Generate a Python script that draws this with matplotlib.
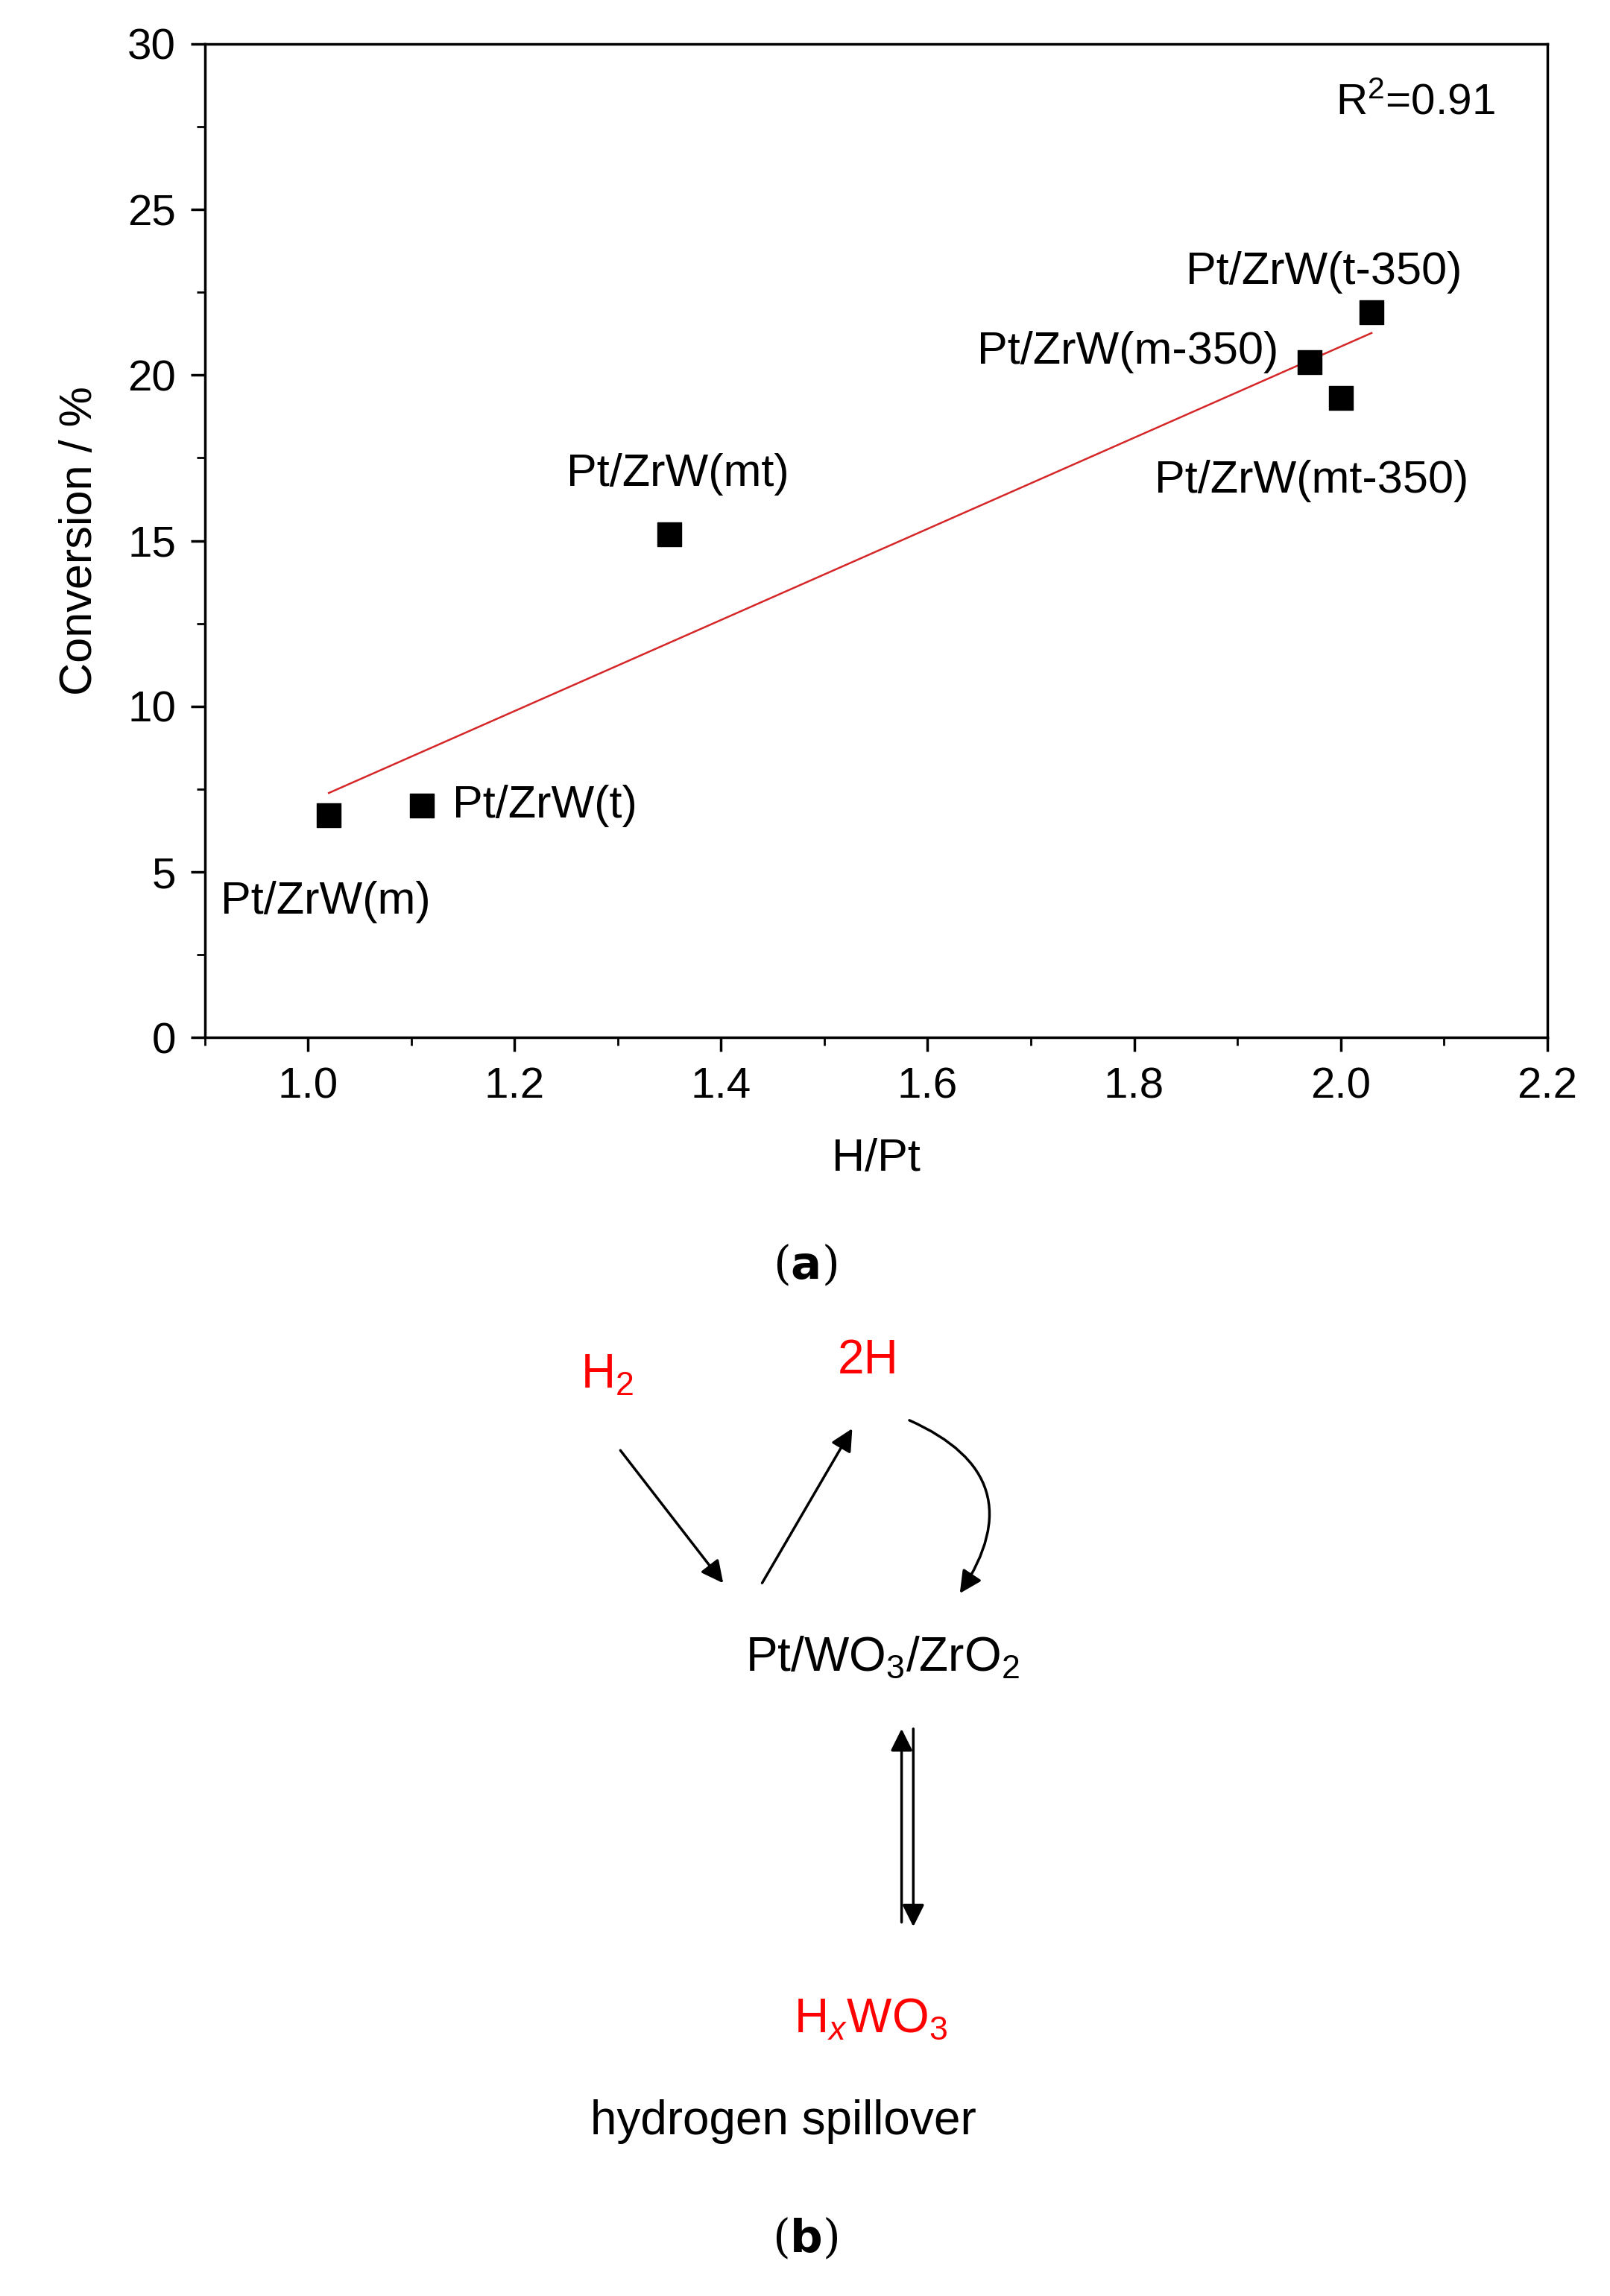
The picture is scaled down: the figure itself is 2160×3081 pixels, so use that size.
import numpy as np
import matplotlib.pyplot as plt
from matplotlib.patches import FancyArrowPatch
from matplotlib.ticker import MultipleLocator

plt.rcParams['font.family'] = ['Liberation Sans', 'DejaVu Sans']
plt.rcParams['mathtext.fontset'] = 'custom'
plt.rcParams['mathtext.rm'] = 'Liberation Sans'
plt.rcParams['mathtext.it'] = 'Liberation Sans:italic'

h_pt = [1.02, 1.11, 1.35, 1.97, 2.00, 2.03]
conversion = [6.7, 7.0, 15.2, 20.4, 19.3, 21.9]
names = ["Pt/ZrW(m)", "Pt/ZrW(t)", "Pt/ZrW(mt)", "Pt/ZrW(m-350)", "Pt/ZrW(mt-350)", "Pt/ZrW(t-350)"]
label_pos = [(0.915, 4.1, "left"), (1.14, 7.0, "left"), (1.25, 17.0, "left"),
             (1.94, 20.7, "right"), (1.82, 16.8, "left"), (1.85, 23.1, "left")]

W, H = 1100, 1569
def fx(x): return x / W
def fy(y): return 1 - y / H

fig = plt.figure(figsize=(21.6, 30.81), dpi=100)
ax = fig.add_axes([fx(140), fy(709), fx(1057) - fx(140), fy(30) - fy(709)])
ax.scatter(h_pt, conversion, marker="s", s=500, color="black", zorder=3)
k, b = np.polyfit(h_pt, conversion, 1)
xs = np.array([min(h_pt), max(h_pt)])
ax.plot(xs, k * xs + b, color="#d62728", lw=1.8)
for n, (x, y, ha) in zip(names, label_pos):
    ax.text(x, y, n, fontsize=44, ha=ha, va="center")
ax.text(1.995, 28.2, "R$^2$=0.91", fontsize=42, va="center")

ax.set_xlim(0.9, 2.2)
ax.set_ylim(0, 30)
ax.xaxis.set_major_locator(MultipleLocator(0.2))
ax.xaxis.set_minor_locator(MultipleLocator(0.1))
ax.yaxis.set_major_locator(MultipleLocator(5))
ax.yaxis.set_minor_locator(MultipleLocator(2.5))
ax.tick_params(which="major", length=14, width=2.5, labelsize=42, pad=14)
ax.tick_params(which="minor", length=8, width=2)
for s in ax.spines.values():
    s.set_linewidth(2.5)
ax.set_xlabel("H/Pt", fontsize=44, labelpad=30)
ax.set_ylabel("Conversion / %", fontsize=44, labelpad=25)

fig.text(fx(550), fy(865), "($\\mathbf{a}$)", fontsize=44, family="serif", ha="center", va="center")
fig.text(fx(550), fy(1530), "($\\mathbf{b}$)", fontsize=44, family="serif", ha="center", va="center")

red = "#ff0000"
fig.text(fx(415), fy(940), "H$_2$", color=red, fontsize=46, ha="center", va="center")
fig.text(fx(593), fy(930), "2H", color=red, fontsize=46, ha="center", va="center")
fig.text(fx(603), fy(1133), "Pt/WO$_3$/ZrO$_2$", fontsize=46, ha="center", va="center")
fig.text(fx(595), fy(1380), "H$_\\mathit{x}$WO$_3$", color=red, fontsize=46, ha="center", va="center")
fig.text(fx(535), fy(1450), "hydrogen spillover", fontsize=46, ha="center", va="center")

arw = dict(arrowstyle="-|>", color="black", lw=2.5, mutation_scale=45, transform=fig.transFigure)
fig.add_artist(FancyArrowPatch((fx(423), fy(990)), (fx(495), fy(1083)), **arw))
fig.add_artist(FancyArrowPatch((fx(520), fy(1083)), (fx(583), fy(975)), **arw))
fig.add_artist(FancyArrowPatch((fx(620), fy(970)), (fx(655), fy(1090)),
               connectionstyle="arc3,rad=-0.6", **arw))
fig.add_artist(FancyArrowPatch((fx(616), fy(1315)), (fx(616), fy(1180)), **arw))
fig.add_artist(FancyArrowPatch((fx(624), fy(1180)), (fx(624), fy(1318)), **arw))

fig.savefig("out.png", dpi=100)
